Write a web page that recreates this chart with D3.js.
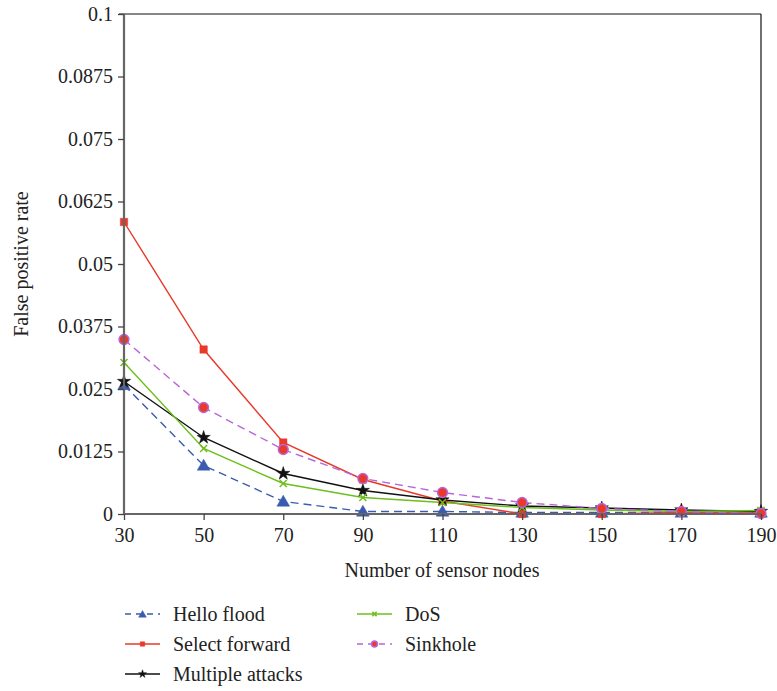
<!DOCTYPE html>
<html><head><meta charset="utf-8">
<script src="https://cdn.jsdelivr.net/npm/d3@7"></script>
<style>body{margin:0;background:#fff}svg{display:block}svg text{font-family:"Liberation Serif","Times New Roman",serif !important;fill:#222}</style>
</head><body>
<svg id="c" width="777" height="691"></svg>
<script>
const nodes = [30, 50, 70, 90, 110, 130, 150, 170, 190];
const yTicks = [0, 0.0125, 0.025, 0.0375, 0.05, 0.0625, 0.075, 0.0875, 0.1];
const yTickLabels = ["0", "0.0125", "0.025", "0.0375", "0.05", "0.0625", "0.075", "0.0875", "0.1"];
const helloFlood = [0.0258, 0.0097, 0.0025, 0.0005, 0.0005, 0.0003, 0.0003, 0.0003, 0.0003];
const selectForward = [0.0584, 0.0329, 0.0143, 0.0069, 0.0026, 0.0, 0.0, 0.0003, 0.0004];
const multipleAttacks = [0.0265, 0.0153, 0.0081, 0.0047, 0.0028, 0.0016, 0.0012, 0.0008, 0.0005];
const dos = [0.0303, 0.0131, 0.0061, 0.0033, 0.0023, 0.0013, 0.0008, 0.0005, 0.0007];
const sinkhole = [0.0349, 0.0213, 0.0129, 0.0071, 0.0043, 0.0023, 0.0011, 0.0005, 0.0001];
const seriesNames = ["Hello flood", "Select forward", "Multiple attacks", "DoS", "Sinkhole"];

const series = [
  {name: seriesNames[0], values: helloFlood, color: "#3a5bb0", dash: "8,5", marker: "triangle", fill: "#3a5bb0", stroke: "#3a5bb0", size: 70},
  {name: seriesNames[1], values: selectForward, color: "#e8392a", dash: null, marker: "square", fill: "#e8392a", stroke: "#e8392a", size: 55},
  {name: seriesNames[2], values: multipleAttacks, color: "#111", dash: null, marker: "star", fill: "#111", stroke: "#111", size: 55},
  {name: seriesNames[3], values: dos, color: "#6cbf1c", dash: null, marker: "cross", fill: "#6cbf1c", stroke: "#6cbf1c", size: 40},
  {name: seriesNames[4], values: sinkhole, color: "#b866d8", dash: "8,5", marker: "circle", fill: "#e8392a", stroke: "#b866d8", size: 75}
];

const svg = d3.select("#c");
const x = d3.scaleLinear().domain([30, 190]).range([124, 761]);
const y = d3.scaleLinear().domain([0, 0.1]).range([514, 14]);

svg.append("line").attr("x1", 119).attr("x2", 761).attr("y1", 14).attr("y2", 14).attr("stroke", "#111").attr("stroke-width", 1.2);
svg.append("line").attr("x1", 761).attr("x2", 761).attr("y1", 14).attr("y2", 514).attr("stroke", "#111").attr("stroke-width", 1.2);

const symType = {triangle: d3.symbolTriangle, square: d3.symbolSquare, star: d3.symbolStar, cross: d3.symbolCross, circle: d3.symbolCircle};
function drawMarker(g, s, cx, cy, scale) {
  if (s.marker === "cross") {
    const r = 3.5 * scale;
    const p = `M${cx - r},${cy - r}L${cx + r},${cy + r}M${cx - r},${cy + r}L${cx + r},${cy - r}`;
    g.append("path").attr("d", p).attr("stroke", s.stroke).attr("stroke-width", 1.5).attr("fill", "none");
  } else {
    g.append("path").attr("d", d3.symbol().type(symType[s.marker]).size(s.size * scale * scale)())
      .attr("transform", `translate(${cx},${cy + (s.marker === "triangle" ? 1 : 0)})`)
      .attr("fill", s.fill).attr("stroke", s.stroke).attr("stroke-width", s.marker === "circle" ? 1.5 : 0.5);
  }
}

const line = d3.line().x((d, i) => x(nodes[i])).y(d => y(d));
const plot = svg.append("g");
series.forEach(s => {
  plot.append("path").datum(s.values).attr("d", line).attr("fill", "none")
    .attr("stroke", s.color).attr("stroke-width", 1.4).attr("stroke-dasharray", s.dash);
});
series.forEach(s => {
  const g = plot.append("g");
  s.values.forEach((v, i) => drawMarker(g, s, x(nodes[i]), y(v), 1));
});

const FS = 20;
const xAxis = svg.append("g").attr("transform", "translate(0,514)")
  .call(d3.axisBottom(x).tickValues(nodes).tickFormat(d3.format("d")).tickSize(6).tickPadding(8));
const yAxis = svg.append("g").attr("transform", "translate(124,0)")
  .call(d3.axisLeft(y).tickValues(yTicks).tickFormat((d, i) => yTickLabels[i]).tickSize(6).tickPadding(5));
[xAxis, yAxis].forEach(a => {
  a.attr("font-family", null).attr("font-size", null);
  a.select(".domain").attr("stroke", "#666").attr("stroke-width", 2.2);
  a.selectAll(".tick line").attr("stroke", "#444").attr("stroke-width", 1.3);
  a.selectAll("text").attr("font-size", FS).attr("fill", "#222");
});
xAxis.select(".domain").attr("d", "M124,0H761");
yAxis.select(".domain").attr("d", "M0,514V14");

svg.append("text").attr("x", 442).attr("y", 577).attr("text-anchor", "middle").attr("font-size", FS).text("Number of sensor nodes");
svg.append("text").attr("transform", "translate(28,264) rotate(-90)").attr("text-anchor", "middle").attr("font-size", FS).text("False positive rate");

const legPos = [[125, 614], [125, 644], [125, 674], [357, 614], [357, 644]];
series.forEach((s, i) => {
  const [lx, ly] = legPos[i];
  const g = svg.append("g");
  g.append("line").attr("x1", lx).attr("x2", lx + 35).attr("y1", ly).attr("y2", ly)
    .attr("stroke", s.color).attr("stroke-width", 1.4).attr("stroke-dasharray", s.dash ? "6,5" : null);
  drawMarker(g, s, lx + 17.5, ly, 0.6);
  g.append("text").attr("x", lx + 48).attr("y", ly + 7).attr("font-size", FS).text(s.name);
});
</script>
</body></html>
